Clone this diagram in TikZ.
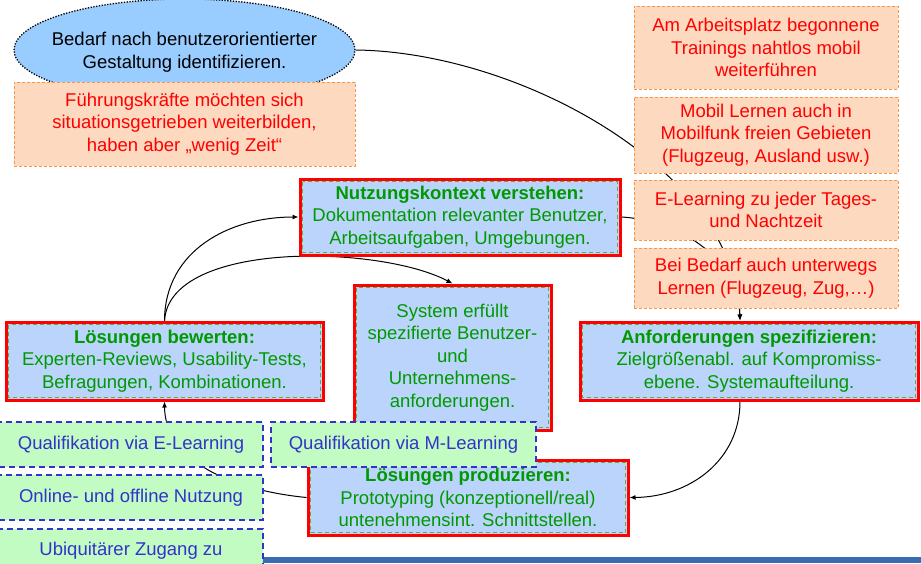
\documentclass[tikz,border=0pt]{standalone}
\usepackage{fontspec}
\setmainfont{Liberation Sans}
\usetikzlibrary{shapes.geometric,arrows.meta}
\pgfdeclarelayer{bg}
\pgfsetlayers{bg,main}
\definecolor{ellfill}{HTML}{99CCFF}
\definecolor{orfill}{HTML}{FDD9C0}
\definecolor{ordraw}{HTML}{F79646}
\definecolor{bluefill}{HTML}{BAD4FB}
\definecolor{greentext}{HTML}{009900}
\definecolor{greendash}{HTML}{66AA44}
\definecolor{grfill}{HTML}{C2FCC2}
\definecolor{bluetext}{HTML}{3333CC}
\definecolor{barblue}{HTML}{3B6BB0}
\tikzset{
  base/.style={inner sep=0pt, align=center, font=\fontsize{18.5}{22.5}\selectfont},
  ellnode/.style={ellipse, inner sep=0pt, fill=ellfill, draw=black, line width=1.3pt, dash pattern=on 1.3pt off 1.5pt},
  orbox/.style={base, rectangle, fill=orfill, draw=ordraw, line width=1pt, dash pattern=on 3pt off 2pt, text=red},
  stepbox/.style={base, rectangle, fill=bluefill, draw=red, line width=3pt, text=greentext,
    path picture={\draw[greendash, line width=1pt, dash pattern=on 4pt off 3pt]
      ([shift={(2.5pt,-2.5pt)}]path picture bounding box.north west) rectangle
      ([shift={(-2.5pt,2.5pt)}]path picture bounding box.south east);}},
  grbox/.style={base, rectangle, fill=grfill, draw=bluetext, line width=1.8pt, dash pattern=on 6pt off 4pt, text=bluetext},
  conn/.style={draw=black, line width=1pt, -{Latex[length=6pt,width=5pt]}}
}
\begin{document}
\begin{tikzpicture}[x=1pt,y=-1pt]
\useasboundingbox (0,0) rectangle (921,563);
\begin{pgfonlayer}{bg}
\fill[white] (0,0) rectangle (921,563);
\end{pgfonlayer}
\clip (0,0) rectangle (921,563);
\fill[barblue] (263,557) rectangle (921,563);

\node[ellnode, minimum width=341pt, minimum height=102pt] (ell) at (184.5,50) {};
\node[base, text=black] (elltext) at (184.5,52)
  {Bedarf nach benutzerorientierter\\Gestaltung identifizieren.};
\node[orbox, minimum width=341pt, minimum height=84pt] (fk) at (184.5,124)
  {Führungskräfte möchten sich\\situationsgetrieben weiterbilden,\\haben aber „wenig Zeit“};

\node[orbox, minimum width=264pt, minimum height=83pt] (o1) at (766,47.5)
  {Am Arbeitsplatz begonnene\\Trainings nahtlos mobil\\weiterführen};
\node[orbox, minimum width=264pt, minimum height=76pt] (o2) at (766,135)
  {Mobil Lernen auch in\\Mobilfunk freien Gebieten\\(Flugzeug, Ausland usw.)};
\node[orbox, minimum width=264pt, minimum height=60pt] (o3) at (766,210)
  {E-Learning zu jeder Tages-\\und Nachtzeit};
\node[orbox, minimum width=264pt, minimum height=60pt] (o4) at (766,278)
  {Bei Bedarf auch unterwegs\\Lernen (Flugzeug, Zug,…)};

\node[stepbox, minimum width=320pt, minimum height=76pt] (nk) at (460,217)
  {\textbf{Nutzungskontext verstehen:}\\Dokumentation relevanter Benutzer,\\Arbeitsaufgaben, Umgebungen.};
\node[stepbox, minimum width=197pt, minimum height=145pt] (sys) at (452.5,357.5)
  {System erfüllt\\spezifierte Benutzer-\\und\\Unternehmens-\\anforderungen.};
\node[stepbox, minimum width=317pt, minimum height=78pt] (lb) at (164.5,361)
  {\textbf{Lösungen bewerten:}\\Experten-Reviews, Usability-Tests,\\Befragungen, Kombinationen.};
\node[stepbox, minimum width=338pt, minimum height=78pt] (as) at (749,361)
  {\textbf{Anforderungen spezifizieren:}\\Zielgrößenabl. auf Kompromiss-\\ebene. Systemaufteilung.};
\node[stepbox, minimum width=320pt, minimum height=75pt] (lp) at (468,497.5)
  {\textbf{Lösungen produzieren:}\\Prototyping (konzeptionell/real)\\untenehmensint. Schnittstellen.};

\node[grbox, minimum width=264pt, minimum height=45pt] (qe) at (131,444.5)
  {Qualifikation via E-Learning};
\node[grbox, minimum width=265pt, minimum height=45pt] (qm) at (403.5,444.5)
  {Qualifikation via M-Learning};
\node[grbox, minimum width=264pt, minimum height=45pt] (on) at (131,497.5)
  {Online- und offline Nutzung};
\node[grbox, anchor=north, minimum width=264pt, text height=13pt, text depth=45pt, inner ysep=14pt] (ub) at (131,528)
  {Ubiquitärer Zugang zu};

\begin{pgfonlayer}{bg}
\draw[conn] (ell.east) .. controls (520,52) and (735,170) .. ([xshift=-9pt]as.north);
\draw[conn] (nk.east) .. controls (675,220) and (738,255) .. ([xshift=-9pt]as.north);
\draw[conn] (lb.north) .. controls (165,250) and (230,217) .. (nk.west);
\draw[conn] (lb.north) .. controls (170,240) and (380,245) .. (sys.north);
\draw[conn] ([xshift=-9pt]as.south) .. controls (740,460) and (690,497) .. (lp.east);
\draw[conn] (lp.west) .. controls (230,490) and (165,460) .. (lb.south);
\end{pgfonlayer}
\end{tikzpicture}
\end{document}
